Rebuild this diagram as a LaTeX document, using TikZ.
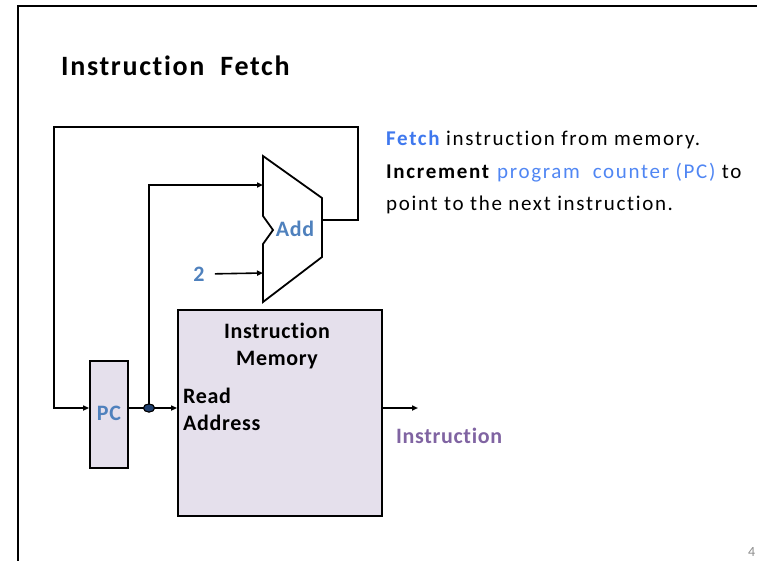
\documentclass[tikz,border=0pt]{standalone}
\usepackage{fontspec}
\setmainfont{Carlito}[Ligatures=NoCommon]
\usetikzlibrary{arrows.meta,shapes.geometric}
\definecolor{lblue}{HTML}{4F81BD}
\definecolor{fblue}{HTML}{3F78EE}
\definecolor{pblue}{HTML}{5086F3}
\definecolor{lpurple}{HTML}{8064A2}
\definecolor{lav}{HTML}{E5E0EC}
\definecolor{navy}{HTML}{1F3F6E}
\definecolor{pgray}{HTML}{8C8C8C}
\newcommand{\labfont}{\bfseries\fontsize{22}{24}\selectfont\addfontfeature{LetterSpace=3}}
\tikzset{
  box/.style={draw=black, line width=1.8pt, fill=lav, inner sep=0pt},
  wire/.style={line width=1.6pt, -{Triangle[length=6pt,width=5pt]}},
  blab/.style={text=lblue, font=\labfont, inner sep=0pt},
  klab/.style={text=black, font=\labfont, inner sep=0pt},
  body/.style={font=\fontsize{21}{23}\selectfont\addfontfeature{LetterSpace=8}, inner sep=0pt, anchor=west},
}
\begin{document}
\begin{tikzpicture}[x=1pt,y=-1pt]
\useasboundingbox (0,0) rectangle (757,560);
% frame
\draw[line width=2pt] (18,600) -- (18,6) -- (800,6);
% title
\node[inner sep=0pt, anchor=west, font=\bfseries\fontsize{28}{31}\selectfont\addfontfeature{LetterSpace=6}] (title) at (61,66) {Instruction\ \ Fetch};
% boxes
\node[box, minimum width=204pt, minimum height=206pt] (mem) at (280,413) {};
\node[box, minimum width=38pt, minimum height=107pt] (pc) at (109,414.5) {};
\node[blab] (pclab) at (109,413) {PC};
\node[klab] (memlab1) at (277,331) {Instruction};
\node[klab] (memlab2) at (277,360) {Memory};
\node[klab, anchor=west] (rd) at (183,396) {Read};
\node[klab, anchor=west] (addr) at (183,423) {Address};
% adder
\draw[line width=1.8pt, line join=miter] (263,156) -- (322,198) -- (322,257) -- (263,302) -- (263,244) -- (273,230) -- (263,216) -- cycle;
\node[blab] (addlab) at (295,229) {Add};
\coordinate (addin1) at (263,185);
\coordinate (addin2) at (263,273);
\coordinate (addout) at (322,220);
\node[blab] (two) at (199,274) {2};
% junction
\node[draw=black, line width=1pt, fill=navy, ellipse, minimum width=11pt, minimum height=8pt, inner sep=0pt] (dot) at (149,408) {};
% feedback loop corners
\coordinate (c1) at (358,127);
\coordinate (c2) at (54,127);
\coordinate (outend) at (418,408);
% connectors
\draw[wire] (addout) -| (c1) -- (c2) |- (pc.west |- dot);
\draw[wire] (pc.east |- dot) -- (mem.west |- dot);
\draw[wire] (dot) |- (addin1);
\draw[wire, shorten <=10pt] (two.east) -- (addin2);
\draw[wire] (mem.east |- dot) -- (outend);
\node[fill=navy, draw=black, line width=1pt, ellipse, minimum width=11pt, minimum height=8pt, inner sep=0pt] at (dot) {};
% output label
\node[inner sep=0pt, anchor=west, text=lpurple, font=\labfont] (outlab) at (396,436) {Instruction};
% description
\node[body] (t1) at (386,140) {\textbf{\textcolor{fblue}{Fetch}} instruction from memory.};
\node[body] (t2) at (386,173) {\textbf{Increment} \textcolor{pblue}{program\ \ counter (PC)} to};
\node[body] (t3) at (386,205) {point to the next instruction.};
% page number
\node[inner sep=0pt, anchor=base west, text=pgray, font=\fontsize{14}{16}\selectfont] (pg) at (748,556) {4};
\end{tikzpicture}
\end{document}
